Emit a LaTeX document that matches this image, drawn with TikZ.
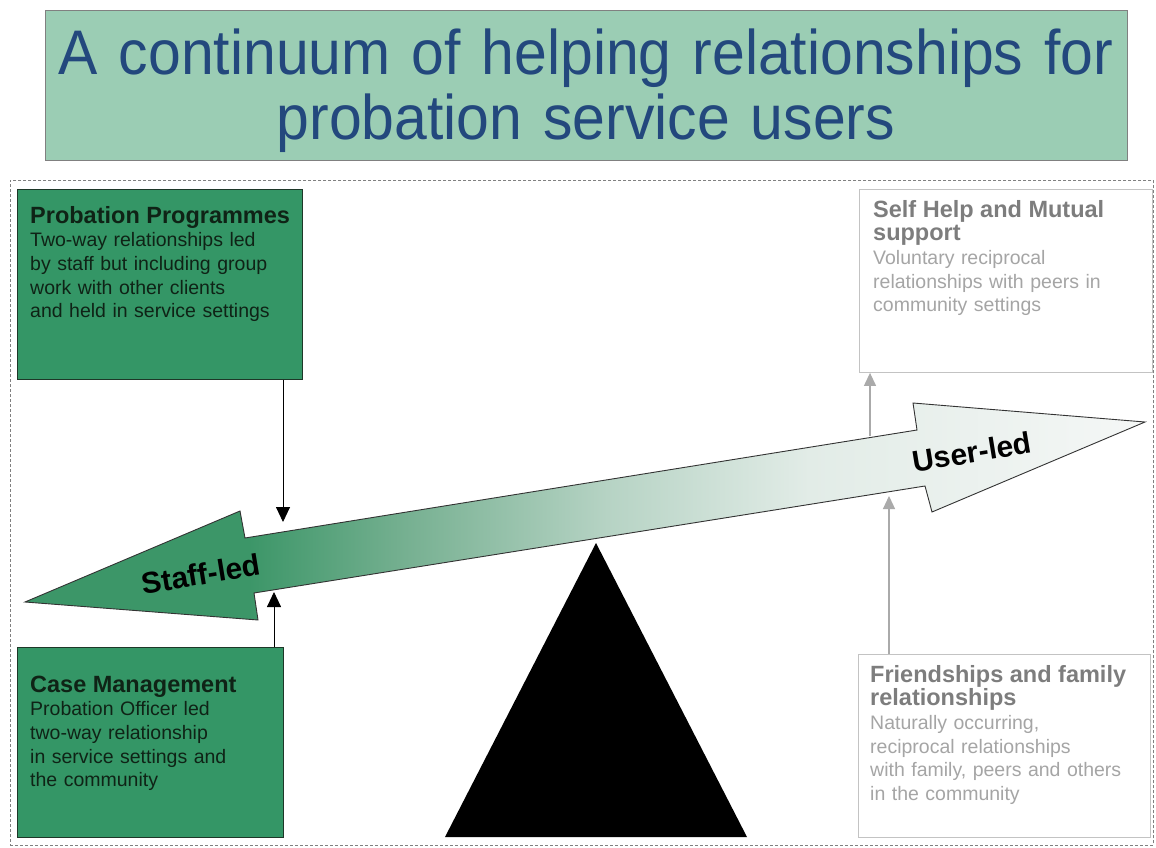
\documentclass[tikz,border=0pt]{standalone}
\usepackage{fontspec}
\setmainfont{Liberation Sans}
\newfontfamily\titlefont[FakeStretch=0.935]{Liberation Sans}
\usetikzlibrary{arrows.meta}
\definecolor{titlebg}{RGB}{155,205,180}
\definecolor{titlefg}{RGB}{35,72,125}
\definecolor{boxgreen}{RGB}{52,150,102}
\definecolor{boxedge}{RGB}{30,55,40}
\definecolor{boxtext}{RGB}{15,35,22}
\definecolor{lightedge}{RGB}{195,195,195}
\definecolor{greytitle}{RGB}{125,125,125}
\definecolor{greybody}{RGB}{165,165,165}
\definecolor{greyarrow}{RGB}{170,170,170}
\definecolor{ag1}{RGB}{60,150,104}
\definecolor{ag2}{RGB}{118,176,145}
\definecolor{ag3}{RGB}{182,211,196}
\definecolor{ag4}{RGB}{226,236,231}
\definecolor{ag5}{RGB}{245,247,246}
\pgfdeclarehorizontalshading{arrowshade}{100bp}{color(0bp)=(ag1); color(35bp)=(ag1); color(42bp)=(ag2); color(51bp)=(ag3); color(60bp)=(ag4); color(75bp)=(ag5); color(100bp)=(ag5)}
\tikzset{
  greenbox/.style={draw=boxedge, line width=0.9pt, fill=boxgreen, inner sep=0, anchor=north west},
  greybox/.style={draw=lightedge, line width=0.9pt, fill=white, inner sep=0, anchor=north west},
  boxtxt/.style={anchor=base west, inner sep=0, text width=300pt, align=left, font=\fontsize{19.5}{23.7}\selectfont},
  blkarrow/.style={draw=black, line width=0.9pt, -{Triangle[width=14pt,length=15pt]}},
  gryarrow/.style={draw=greyarrow, line width=1.2pt, -{Triangle[width=12pt,length=13pt]}},
  arrowlabel/.style={font=\fontsize{30}{32}\selectfont\bfseries, rotate=9.3, inner sep=0}
}
\newcommand{\boxtitle}[1]{{\fontsize{23.5}{23.7}\selectfont\bfseries #1}}
\begin{document}
\begin{tikzpicture}[x=1pt,y=-1pt]
\useasboundingbox (0,0) rectangle (1156,848);
\fill[white] (0,0) rectangle (1156,848);
% title
\node[draw=gray, line width=0.8pt, fill=titlebg, minimum width=1082, minimum height=150, inner sep=0, anchor=north west] (titlebox) at (45,10) {};
\node[anchor=base, inner sep=0, text width=1100pt, align=center, text=titlefg, font=\titlefont\fontsize{63}{65}\selectfont] (titletext) at (586,75) {A continuum of helping relationships for\\probation service users};
% frame
\node[draw=gray, dash pattern=on 3pt off 2pt, line width=0.8pt, minimum width=1143, minimum height=665, inner sep=0, anchor=north west] (frame) at (10,180) {};
% boxes
\node[greenbox, minimum width=285, minimum height=190] (prog) at (17,189) {};
\node[greenbox, minimum width=266, minimum height=190] (case) at (17,647) {};
\node[greybox, minimum width=293, minimum height=183] (self) at (859,189) {};
\node[greybox, minimum width=292, minimum height=183] (friend) at (858,654) {};
% box texts
\node[boxtxt, text=boxtext] (progtext) at (30,223) {\boxtitle{Probation Programmes}\\Two-way relationships led\\by staff but including group\\work with other clients\\and held in service settings};
\node[boxtxt, text=boxtext] (casetext) at (30,692) {\boxtitle{Case Management}\\Probation Officer led\\two-way relationship\\in service settings and\\the community};
\node[boxtxt, text=greybody] (selftext) at (873,217) {\boxtitle{\color{greytitle}Self Help and Mutual}\\\boxtitle{\color{greytitle}support}\\Voluntary reciprocal\\relationships with peers in\\community settings};
\node[boxtxt, text=greybody] (friendtext) at (870,682) {\boxtitle{\color{greytitle}Friendships and family}\\\boxtitle{\color{greytitle}relationships}\\Naturally occurring,\\reciprocal relationships\\with family, peers and others\\in the community};
% big double arrow
\shadedraw[shading=arrowshade, draw=black!80, line width=0.9pt, line join=miter]
  (25,602) -- (240,511) -- (245,538) -- (917,430) -- (913,403) -- (1145,422)
  -- (932,512) -- (925,486) -- (254,593) -- (258,620) -- cycle;
\node[arrowlabel] (staff) at (201,574) {Staff-led};
\node[arrowlabel] (user) at (972,452) {User-led};
% fulcrum
\fill[black] (596,543) -- (747,837) -- (445,837) -- cycle;
% connectors
\coordinate (progtip) at (283,522);
\coordinate (casetip) at (274,592);
\coordinate (selfstart) at (870,436);
\coordinate (friendtip) at (889,496);
\draw[blkarrow] (progtip |- prog.south) -- (progtip);
\draw[blkarrow] (casetip |- case.north) -- (casetip);
\draw[gryarrow] (selfstart) -- (selfstart |- self.south);
\draw[gryarrow] (friendtip |- friend.north) -- (friendtip);
\end{tikzpicture}
\end{document}
